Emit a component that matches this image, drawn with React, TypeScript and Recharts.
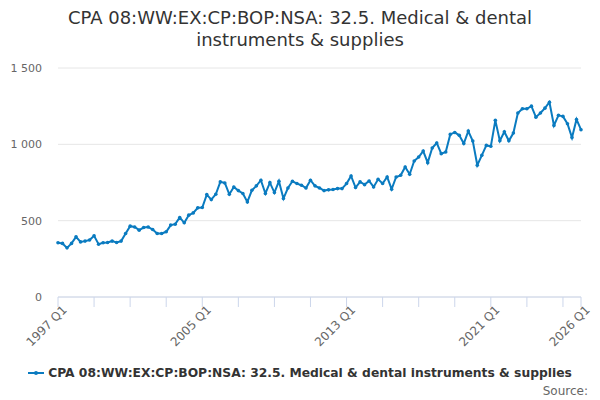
import { LineChart, Line, XAxis, YAxis, CartesianGrid } from 'recharts';

// quarterly categories 1997 Q1 .. 2026 Q1
const quarters: string[] = [];
for (let y = 1997; y <= 2026; y++) {
  for (let q = 1; q <= 4; q++) {
    if (y === 2026 && q > 1) break;
    quarters.push(`${y} Q${q}`);
  }
}

const exportsValues = [
  355, 351, 322, 351, 394, 361, 366, 373, 401, 346,
  355, 357, 366, 357, 366, 416, 464, 459, 438, 455,
  459, 442, 416, 416, 427, 471, 477, 521, 486, 536,
  551, 584, 586, 671, 638, 673, 754, 747, 673, 720,
  697, 678, 623, 699, 728, 765, 678, 749, 684, 758,
  645, 714, 758, 743, 732, 714, 765, 728, 714, 697,
  702, 704, 710, 710, 743, 793, 717, 754, 736, 760,
  721, 771, 743, 786, 706, 786, 797, 852, 804, 891,
  917, 956, 880, 976, 1009, 939, 950, 1065, 1078, 1059,
  1005, 1087, 1022, 863, 928, 993, 987, 1157, 1023, 1082,
  1023, 1074, 1205, 1233, 1233, 1250, 1178, 1205, 1237, 1276,
  1124, 1190, 1183, 1135, 1044, 1163, 1096,
];

const tickQuarters = [
  '1997 Q1', '1999 Q1', '2001 Q1', '2003 Q1', '2005 Q1', '2007 Q1', '2009 Q1', '2011 Q1',
  '2013 Q1', '2015 Q1', '2017 Q1', '2019 Q1', '2021 Q1', '2023 Q1', '2025 Q1', '2026 Q1',
];
const labelledQuarters = ['1997 Q1', '2005 Q1', '2013 Q1', '2021 Q1', '2026 Q1'];
const yTicks = [0, 500, 1000, 1500];

const seriesName = 'CPA 08:WW:EX:CP:BOP:NSA: 32.5. Medical & dental instruments & supplies';
const lineColor = '#0a7bc0';
const font = '"DejaVu Sans", sans-serif';

const data = quarters.map((q, i) => ({ quarter: q, value: exportsValues[i] }));

const formatThousands = (v: number) => String(v).replace(/\B(?=(\d{3})+(?!\d))/g, ' ');

const QuarterTick = (props: any) => {
  const { x, y, payload } = props;
  if (!labelledQuarters.includes(payload.value)) return <g />;
  return (
    <g transform={`translate(${x + 4},${y - 4})`}>
      <text x={0} y={0} dy={8} textAnchor="end" transform="rotate(-45)" fill="#666" fontSize={12} fontFamily={font}>
        {payload.value}
      </text>
    </g>
  );
};

export default function App() {
  return (
    <div style={{ position: 'absolute', left: 0, top: 0, width: 600, height: 400, background: '#fff', fontFamily: font }}>
      <div
        style={{
          position: 'absolute',
          top: 7,
          left: 0,
          width: 600,
          textAlign: 'center',
          fontSize: 18,
          lineHeight: '22px',
          color: '#333',
        }}
      >
        CPA 08:WW:EX:CP:BOP:NSA: 32.5. Medical &amp; dental
        <br />
        instruments &amp; supplies
      </div>
      <LineChart width={600} height={400} data={data} margin={{ top: 68, right: 19, left: 0, bottom: 43 }}>
        <CartesianGrid vertical={false} stroke="#e6e6e6" />
        <XAxis
          dataKey="quarter"
          ticks={tickQuarters}
          interval={0}
          height={60}
          tick={<QuarterTick />}
          tickSize={10}
          stroke="#ccd6eb"
          tickLine={{ stroke: '#ccd6eb' }}
          axisLine={{ stroke: '#ccd6eb' }}
        />
        <YAxis
          domain={[0, 1500]}
          ticks={yTicks}
          width={58}
          axisLine={false}
          tickLine={false}
          tickMargin={10}
          tickFormatter={formatThousands}
          tick={{ fill: '#666', fontSize: 11, fontFamily: font }}
        />
        <Line
          type="linear"
          dataKey="value"
          stroke={lineColor}
          strokeWidth={2}
          dot={{ r: 1.8, fill: lineColor, stroke: lineColor, strokeWidth: 0 }}
          isAnimationActive={false}
        />
      </LineChart>
      <div
        style={{
          position: 'absolute',
          top: 366,
          left: 0,
          width: 600,
          display: 'flex',
          justifyContent: 'center',
          alignItems: 'center',
          fontSize: 12.3,
          fontWeight: 'bold',
          color: '#333',
        }}
      >
        <svg width={16} height={12} style={{ marginRight: 4 }}>
          <line x1={0} y1={6} x2={16} y2={6} stroke={lineColor} strokeWidth={2} />
          <circle cx={8} cy={6} r={2} fill={lineColor} />
        </svg>
        <span>{seriesName}</span>
      </div>
      <div style={{ position: 'absolute', top: 384, right: 12, fontSize: 12, color: '#666' }}>Source:</div>
    </div>
  );
}
